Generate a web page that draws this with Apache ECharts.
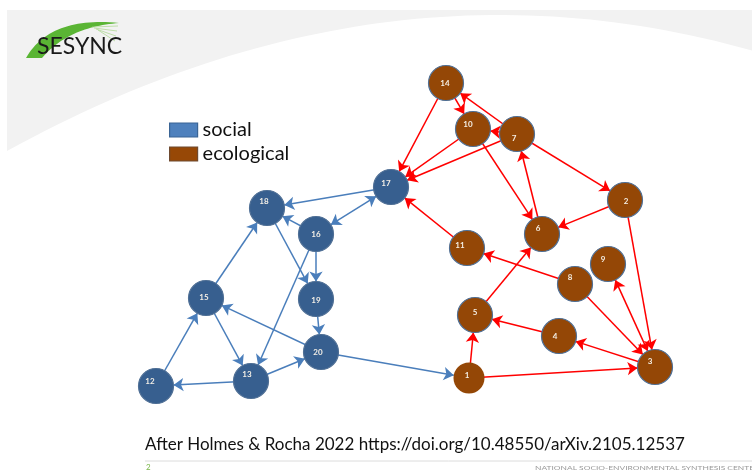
<!DOCTYPE html>
<html>
<head>
<meta charset="utf-8">
<script src="https://cdn.jsdelivr.net/npm/echarts@6/dist/echarts.min.js"></script>
<style>
html,body{margin:0;padding:0;background:#fff;}
#chart{width:752px;height:473px;}
</style>
</head>
<body>
<div id="chart"></div>
<script>
// ---- data ----
const groups = ['social', 'ecological'];
const nodeIds = ['1','2','3','4','5','6','7','8','9','10','11','12','13','14','15','16','17','18','19','20'];
const nodeGroup = ['ecological','ecological','ecological','ecological','ecological','ecological','ecological','ecological','ecological','ecological','ecological','social','social','ecological','social','social','social','social','social','social'];
const nodeX = [469, 625, 655, 559, 475, 542, 517, 575, 608, 473, 467, 156, 251, 446, 206, 316, 391, 267, 316, 321];
const nodeY = [378, 200, 367, 336, 315, 234, 134, 284, 264, 129, 248, 386, 381, 83, 298, 234, 187, 208, 299, 352];
// directed links: source -> target ; linkBoth marks two-headed arrows
const linkSource = ['17','17','16','16','16','18','15','15','12','13','13','19','20','20',
                    '14','14','7','7','10','7','10','6','7','2','2','11','8','5','1','1','3','4','8','9'];
const linkTarget = ['18','16','18','19','13','19','18','13','15','12','20','20','15','1',
                    '10','17','14','10','17','17','6','7','2','6','3','17','11','6','5','3','4','5','3','3'];
const linkBoth   = [false,true,false,false,false,false,false,false,false,false,false,false,false,false,
                    false,false,false,false,false,false,false,false,false,false,false,false,false,false,false,false,false,false,false,true];
const sourceText = 'After Holmes & Rocha 2022 https://doi.org/10.48550/arXiv.2105.12537';

// ---- styles ----
const groupStyle = {
  social:     { node: '#375f8f', edge: '#4a7ebb', legend: '#4f81bd' },
  ecological: { node: '#944706', edge: '#ff0000', legend: '#974806' }
};
const labelShift = {
  '1':[-2,-3],'2':[1,1],'3':[-5,-6],'4':[-4,0],'5':[0,-3],'6':[-4,-6],'7':[-3,4],'8':[-5,-7],'9':[-5,-5],
  '10':[-5,-5],'11':[-7,-3],'12':[-6,-5],'13':[-4,-7],'14':[-1,0],'15':[-2,-1],'16':[0,0],'17':[-5,-4],
  '18':[-3,-7],'19':[0,1],'20':[-3,0]
};
const FONT = 'Lato, "Open Sans", sans-serif';

// decorative curve helper (quadratic bezier sampled to points)
function quad(p0, c, p1, n) {
  const pts = [];
  for (let i = 0; i <= n; i++) {
    const t = i / n, u = 1 - t;
    pts.push([u*u*p0[0] + 2*u*t*c[0] + t*t*p1[0], u*u*p0[1] + 2*u*t*c[1] + t*t*p1[1]]);
  }
  return pts;
}
const bandPts = [[7,10],[752,10]].concat(quad([752,50.6],[379.5,-54.6],[7,151],60));
const arcPts = quad([26,58],[50,16],[119,23],30).concat(quad([119,23],[68,27],[42,58],30));

const groupOf = {};
nodeIds.forEach((id, i) => { groupOf[id] = nodeGroup[i]; });

const nodes = nodeIds.map((id, i) => {
  const n = {
    name: id,
    value: [nodeX[i], nodeY[i]],
    category: groups.indexOf(nodeGroup[i]),
    symbolSize: id === '1' ? 31 : 35,
    label: { offset: labelShift[id] }
  };
  if (id === '1') n.itemStyle = { borderWidth: 0 };
  return n;
});

const links = linkSource.map((s, i) => {
  const l = {
    source: s,
    target: linkTarget[i],
    lineStyle: { color: groupStyle[groupOf[s]].edge }
  };
  if (linkBoth[i]) l.symbol = ['arrow', 'arrow'];
  return l;
});

const chart = echarts.init(document.getElementById('chart'), null, { renderer: 'canvas' });

const option = {
  animation: false,
  backgroundColor: '#ffffff',
  grid: { left: 0, right: 0, top: 0, bottom: 0 },
  xAxis: { type: 'value', min: 0, max: 752, show: false },
  yAxis: { type: 'value', min: 0, max: 473, inverse: true, show: false },
  legend: {
    orient: 'vertical',
    left: 169, top: 120, padding: 0,
    itemWidth: 28, itemHeight: 14, itemGap: 4,
    icon: 'rect',
    data: groups.map(g => ({ name: g, itemStyle: { color: groupStyle[g].legend, borderColor: g === 'social' ? '#3b6595' : '#6e4a30', borderWidth: 1.2 } })),
    textStyle: { fontFamily: FONT, fontSize: 20, lineHeight: 20, color: '#111', padding: [0, 0, 0, 0] },
    selectedMode: false
  },
  graphic: [
    { type: 'polygon', z: -10, silent: true, shape: { points: bandPts }, style: { fill: '#f2f2f2' } },
    { type: 'polygon', z: 5, silent: true, shape: { points: arcPts }, style: { fill: '#5ab534' } },
    { type: 'line', z: 5, silent: true, shape: { x1: 92, y1: 27, x2: 118, y2: 26 }, style: { stroke: '#a8d68a', lineWidth: 0.7 } },
    { type: 'line', z: 5, silent: true, shape: { x1: 94, y1: 28, x2: 117, y2: 31 }, style: { stroke: '#a8d68a', lineWidth: 0.7 } },
    { type: 'line', z: 5, silent: true, shape: { x1: 96, y1: 29, x2: 116, y2: 36 }, style: { stroke: '#a8d68a', lineWidth: 0.7 } },
    { type: 'line', z: 5, silent: true, shape: { x1: 98, y1: 30, x2: 115, y2: 41 }, style: { stroke: '#a8d68a', lineWidth: 0.7 } },
    { type: 'text', z: 6, silent: true, left: 37, top: 35,
      style: { text: 'SESYNC', fontFamily: FONT, fontSize: 23, fill: '#1a1a1a' } },
    { type: 'text', silent: true, left: 145, top: 436,
      style: { text: sourceText, fontFamily: FONT, fontSize: 17, fill: '#111' } },
    { type: 'line', silent: true, shape: { x1: 145, y1: 461, x2: 752, y2: 461 },
      style: { stroke: '#dcdcdc', lineWidth: 1 } },
    { type: 'text', silent: true, left: 146, top: 463,
      style: { text: '2', fontFamily: FONT, fontSize: 8, fill: '#7ab648' } },
    { type: 'text', silent: true, x: 535, y: 465, scaleX: 1.4,
      style: { text: 'NATIONAL SOCIO-ENVIRONMENTAL SYNTHESIS CENTER', fontFamily: FONT, fontSize: 6, fill: '#9a9a9a' } }
  ],
  series: [{
    type: 'graph',
    coordinateSystem: 'cartesian2d',
    xAxisIndex: 0, yAxisIndex: 0,
    categories: groups.map(g => ({
      name: g,
      itemStyle: { color: groupStyle[g].node, borderColor: '#4f6f95', borderWidth: 1.2 }
    })),
    data: nodes,
    links: links,
    edgeSymbol: ['none', 'arrow'],
    edgeSymbolSize: 10,
    lineStyle: { width: 1.5, opacity: 1, curveness: 0 },
    label: { show: true, position: 'inside', fontFamily: FONT, fontSize: 8, fontWeight: 'bold', color: '#f4efe6' },
    emphasis: { disabled: true },
    roam: false
  }]
};
chart.setOption(option);
</script>
</body>
</html>
